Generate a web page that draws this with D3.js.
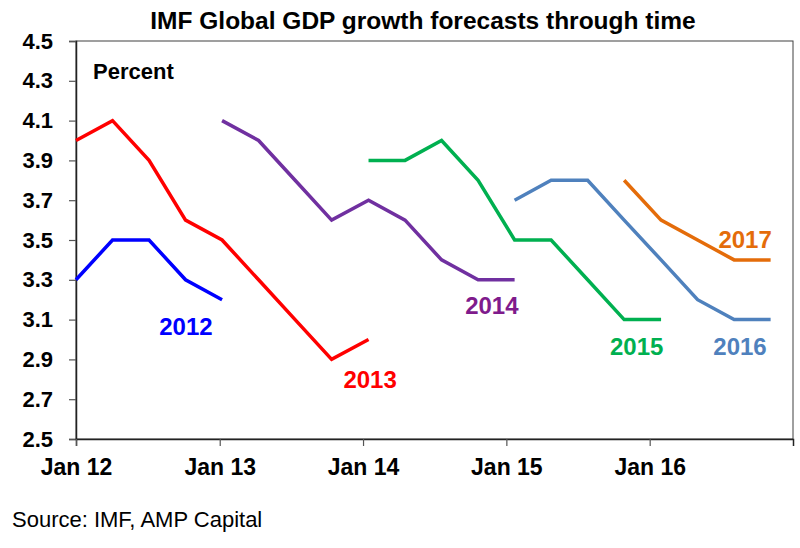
<!DOCTYPE html>
<html>
<head>
<meta charset="utf-8">
<script src="https://cdn.jsdelivr.net/npm/d3@7"></script>
<style>
  html, body { margin: 0; padding: 0; background: #fff; }
  svg { display: block; font-family: "Liberation Sans", Arial, Helvetica, sans-serif; }
</style>
</head>
<body>
<svg id="chart" width="800" height="548"></svg>
<script>
// ---------- DATA ----------
// IMF forecast release dates (as positioned on the chart)
const releaseDates = [
  "2012-01-01","2012-04-03","2012-07-05","2012-10-06",
  "2013-01-07","2013-04-10","2013-07-12","2013-10-13",
  "2014-01-15","2014-04-18","2014-07-20","2014-10-21",
  "2015-01-22","2015-04-25","2015-07-27","2015-10-28",
  "2016-01-30","2016-05-02","2016-08-03","2016-11-04"
];
const _ = null;
const f2012 = [3.3,3.5,3.5,3.3,3.2, _,_,_,_,_,_,_,_,_,_,_,_,_,_,_];
const f2013 = [4.0,4.1,3.9,3.6,3.5,3.3,3.1,2.9,3.0, _,_,_,_,_,_,_,_,_,_,_];
const f2014 = [_,_,_,_,4.1,4.0,3.8,3.6,3.7,3.6,3.4,3.3,3.3, _,_,_,_,_,_,_];
const f2015 = [_,_,_,_,_,_,_,_,3.9,3.9,4.0,3.8,3.5,3.5,3.3,3.1,3.1, _,_,_];
const f2016 = [_,_,_,_,_,_,_,_,_,_,_,_,3.7,3.8,3.8,3.6,3.4,3.2,3.1,3.1];
const f2017 = [_,_,_,_,_,_,_,_,_,_,_,_,_,_,_,3.8,3.6,3.5,3.4,3.4];

const seriesNames = ["2012","2013","2014","2015","2016","2017"];
const seriesValues = [f2012, f2013, f2014, f2015, f2016, f2017];

const yTicks = [2.5,2.7,2.9,3.1,3.3,3.5,3.7,3.9,4.1,4.3,4.5];
const xTickDates = ["2012-01-01","2013-01-01","2014-01-01","2015-01-01","2016-01-01"];
const xTickLabels = ["Jan 12","Jan 13","Jan 14","Jan 15","Jan 16"];

// ---------- STYLE / LAYOUT ----------
const lineColors  = ["#0000FF","#FF0000","#7030A0","#00B050","#4F81BD","#E46C0A"];
const labelColors = ["#0000FF","#FF0000","#7F1B8C","#00B050","#4F81BD","#E46C0A"];
// label anchors in data coordinates (date, value) - text centre / baseline
const labelAnchors = [
  ["2012-10-07", 3.023],
  ["2014-01-19", 2.754],
  ["2014-11-25", 3.128],
  ["2015-11-29", 2.922],
  ["2016-08-18", 2.922],
  ["2016-08-31", 3.462]
];

const parse = d3.utcParse("%Y-%m-%d");
const svg = d3.select("#chart");

const plot = { left: 76, right: 793, top: 41, bottom: 439 };

const x = d3.scaleUtc()
  .domain([parse("2012-01-01"), parse("2016-12-31")])
  .range([plot.left, plot.right]);
const y = d3.scaleLinear()
  .domain([2.5, 4.5])
  .range([plot.bottom, plot.top]);

// frame (top/right)
svg.append("rect")
  .attr("x", plot.left).attr("y", plot.top)
  .attr("width", plot.right - plot.left).attr("height", plot.bottom - plot.top)
  .attr("fill", "none").attr("stroke", "#404040").attr("stroke-width", 1);

// y axis
const yAxis = svg.append("g")
  .attr("transform", `translate(${plot.left},0)`)
  .call(d3.axisLeft(y).tickValues(yTicks).tickFormat(d3.format(".1f")).tickSize(7).tickPadding(16));
yAxis.select(".domain").attr("stroke", "#222").attr("stroke-width", 1.5);
yAxis.selectAll(".tick line").attr("stroke", "#555").attr("stroke-width", 1.2);
yAxis.selectAll(".tick text")
  .attr("fill", "#000").attr("font-size", 22).attr("font-weight", "bold")
  .attr("font-family", "'Liberation Sans', Arial, sans-serif");

// x axis
const xAxis = svg.append("g")
  .attr("transform", `translate(0,${plot.bottom})`)
  .call(d3.axisBottom(x).tickValues(xTickDates.map(parse))
    .tickFormat((d, i) => xTickLabels[i]).tickSize(7).tickPadding(13));
xAxis.select(".domain").attr("stroke", "#222").attr("stroke-width", 1.5);
xAxis.selectAll(".tick line").attr("stroke", "#555").attr("stroke-width", 1.2);
xAxis.selectAll(".tick text")
  .attr("fill", "#000").attr("font-size", 23).attr("font-weight", "bold")
  .attr("font-family", "'Liberation Sans', Arial, sans-serif");

// lines
const line = d3.line()
  .defined(d => d.v !== null)
  .x(d => x(d.date))
  .y(d => y(d.v));

seriesValues.forEach((vals, s) => {
  const pts = vals.map((v, i) => ({ date: parse(releaseDates[i]), v }));
  svg.append("path")
    .datum(pts)
    .attr("d", line)
    .attr("fill", "none")
    .attr("stroke", lineColors[s])
    .attr("stroke-width", 3.5)
    .attr("stroke-linejoin", "miter");
});

// series labels
seriesNames.forEach((name, s) => {
  svg.append("text")
    .attr("x", x(parse(labelAnchors[s][0])))
    .attr("y", y(labelAnchors[s][1]))
    .attr("text-anchor", "middle")
    .attr("font-size", 24).attr("font-weight", "bold")
    .attr("fill", labelColors[s])
    .text(name);
});

// title
svg.append("text")
  .attr("x", 423).attr("y", 29)
  .attr("text-anchor", "middle")
  .attr("font-size", 24.5).attr("font-weight", "bold")
  .attr("fill", "#000")
  .text("IMF Global GDP growth forecasts through time");

// unit label
svg.append("text")
  .attr("x", 93).attr("y", 79)
  .attr("font-size", 22).attr("font-weight", "bold")
  .attr("fill", "#000")
  .text("Percent");

// source
svg.append("text")
  .attr("x", 12).attr("y", 527)
  .attr("font-size", 22)
  .attr("fill", "#000")
  .text("Source: IMF, AMP Capital");
</script>
</body>
</html>
